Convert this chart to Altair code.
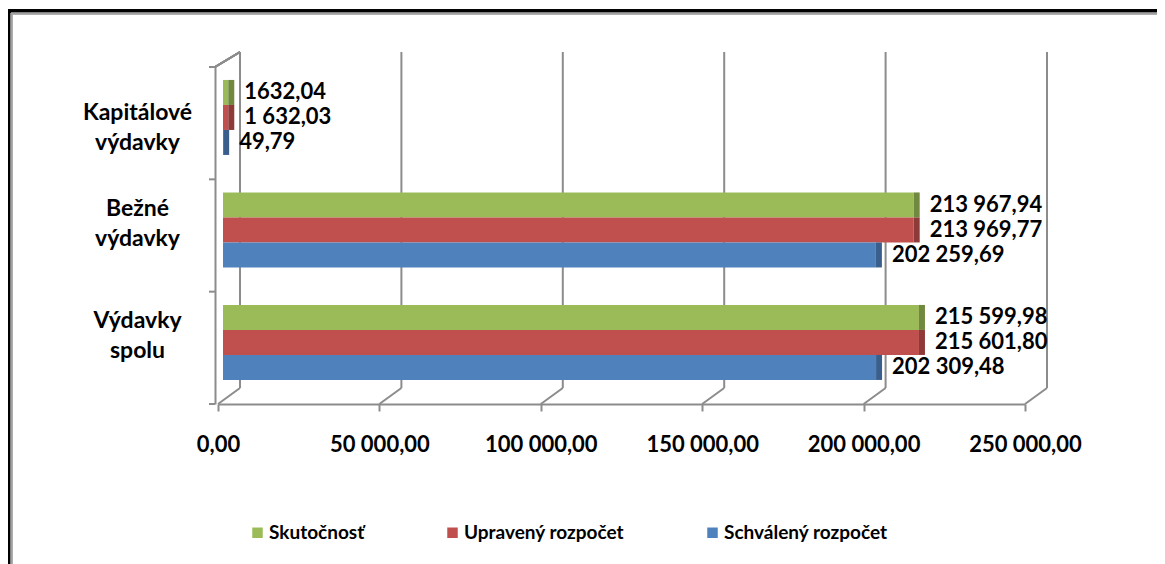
import altair as alt
import pandas as pd

categories = ["Kapitálové výdavky", "Bežné výdavky", "Výdavky spolu"]
series = ["Skutočnosť", "Upravený rozpočet", "Schválený rozpočet"]
skutocnost = [1632.04, 213967.94, 215599.98]
upraveny = [1632.03, 213969.77, 215601.80]
schvaleny = [49.79, 202259.69, 202309.48]
lbl_skutocnost = ["1632,04", "213 967,94", "215 599,98"]
lbl_upraveny = ["1 632,03", "213 969,77", "215 601,80"]
lbl_schvaleny = ["49,79", "202 259,69", "202 309,48"]
x_ticks = [0, 50000, 100000, 150000, 200000, 250000]

colors = ["#9BBB59", "#C0504D", "#4F81BD"]
dark = ["#71893F", "#8E3A38", "#3A5F8C"]

rows = []
for s, vals, lbls in [(series[0], skutocnost, lbl_skutocnost),
                      (series[1], upraveny, lbl_upraveny),
                      (series[2], schvaleny, lbl_schvaleny)]:
    for c, v, l in zip(categories, vals, lbls):
        rows.append({"cat": c, "series": s, "value": v, "label": l})
df = pd.DataFrame(rows)
ticks_df = pd.DataFrame({"v": x_ticks})

W, H = 807, 337
FONT = "Lato"

xscale = alt.Scale(domain=[0, 250000], nice=False, zero=True)
yscale = alt.Scale(domain=categories, paddingInner=0.3333, paddingOuter=0.1644, align=0.35)
offscale = alt.Scale(domain=series, paddingInner=0, paddingOuter=0)

label_expr = "replace(replace(format(datum.value, ',.2f'), regexp(',', 'g'), ' '), '.', ',')"

base = alt.Chart(df)

bars = base.mark_bar(xOffset=5, x2Offset=5).encode(
    x=alt.X("value:Q", scale=xscale,
            axis=alt.Axis(values=x_ticks, labelExpr=label_expr, title=None, grid=False,
                          domainColor="#8C8C8C", domainWidth=2, tickColor="#8C8C8C",
                          tickWidth=2, tickSize=7, labelPadding=23,
                          labelFont=FONT, labelFontSize=22, labelFontWeight="bold",
                          labelColor="#000000", labelFlush=False)),
    y=alt.Y("cat:N", scale=yscale, sort=categories,
            axis=alt.Axis(title=None, domainColor="#8C8C8C", domainWidth=2,
                          ticks=False, offset=3, labelAlign="center", labelPadding=78,
                          labelExpr="split(datum.label, ' ')", labelLineHeight=30,
                          labelOffset={"condition": {"test": "datum.value == 'Kapitálové výdavky'", "value": -4},
                                       "value": -21},
                          labelFont=FONT, labelFontSize=23, labelFontWeight="bold",
                          labelColor="#000000", labelBaseline="middle")),
    yOffset=alt.YOffset("series:N", sort=series, scale=offscale),
    color=alt.Color("series:N", sort=series,
                    scale=alt.Scale(domain=series, range=colors),
                    legend=alt.Legend(title=None, orient="none", direction="horizontal",
                                      legendX=30, legendY=456, symbolType="square",
                                      symbolSize=110, symbolStrokeWidth=0, labelLimit=400,
                                      labelFont=FONT, labelFontSize=19, labelFontWeight="bold",
                                      labelColor="#000000", columnPadding=78, labelOffset=2)),
)

sides = base.mark_tick(xOffset=8, thickness=6, size=25, opacity=1).encode(
    x=alt.X("value:Q", scale=xscale),
    y=alt.Y("cat:N", scale=yscale, sort=categories),
    yOffset=alt.YOffset("series:N", sort=series, scale=offscale),
    color=alt.Color("series:N", sort=series, scale=alt.Scale(domain=series, range=dark), legend=None),
)

texts = base.mark_text(align="left", baseline="middle", dx=21, font=FONT, fontSize=22,
                       fontWeight="bold", color="#000000").encode(
    x=alt.X("value:Q", scale=xscale),
    y=alt.Y("cat:N", scale=yscale, sort=categories),
    yOffset=alt.YOffset("series:N", sort=series, scale=offscale),
    text="label:N",
)

grid = alt.Chart(ticks_df).mark_rule(color="#8C8C8C", strokeWidth=2, xOffset=22).encode(
    x=alt.X("v:Q", scale=xscale),
    y=alt.value(-15),
    y2=alt.value(321),
)

diag = alt.Chart(ticks_df).mark_rule(color="#8C8C8C", strokeWidth=2, x2Offset=22).encode(
    x=alt.X("v:Q", scale=xscale),
    x2="v:Q",
    y=alt.value(337),
    y2=alt.value(321),
)

wall_top = alt.Chart(ticks_df).mark_rule(color="#8C8C8C", strokeWidth=2).encode(
    x=alt.value(-3), x2=alt.value(22), y=alt.value(0), y2=alt.value(-15),
)

ydiv_df = pd.DataFrame({"p": [0, H / 3, 2 * H / 3, H]})
ydiv = alt.Chart(ydiv_df).mark_rule(color="#8C8C8C", strokeWidth=2).encode(
    x=alt.value(-9), x2=alt.value(-3), y=alt.Y("p:Q", scale=None), y2="p:Q",
)

frame_top = alt.Chart(ticks_df).mark_rule(color="#000000", strokeWidth=3).encode(
    x=alt.value(-210), x2=alt.value(947), y=alt.value(-56), y2=alt.value(-56),
)
frame_top2 = alt.Chart(ticks_df).mark_rule(color="#A0A0A0", strokeWidth=1.5).encode(
    x=alt.value(-207), x2=alt.value(947), y=alt.value(-53.5), y2=alt.value(-53.5),
)
frame_left = alt.Chart(ticks_df).mark_rule(color="#000000", strokeWidth=3).encode(
    x=alt.value(-209), x2=alt.value(-209), y=alt.value(-57), y2=alt.value(510),
)
frame_left2 = alt.Chart(ticks_df).mark_rule(color="#A0A0A0", strokeWidth=1.5).encode(
    x=alt.value(-206.5), x2=alt.value(-206.5), y=alt.value(-54), y2=alt.value(510),
)

chart = alt.layer(grid, diag, wall_top, ydiv, bars, sides, texts,
                  frame_top, frame_top2, frame_left, frame_left2).resolve_scale(
    color="independent"
).properties(
    width=W, height=H,
    autosize=alt.AutoSizeParams(type="none"),
    padding={"left": 210, "top": 59, "right": 132, "bottom": 160},
    background="#FFFFFF",
).configure_view(stroke=None)

chart.save("out.html", embed_options={"renderer": "svg", "actions": False})
